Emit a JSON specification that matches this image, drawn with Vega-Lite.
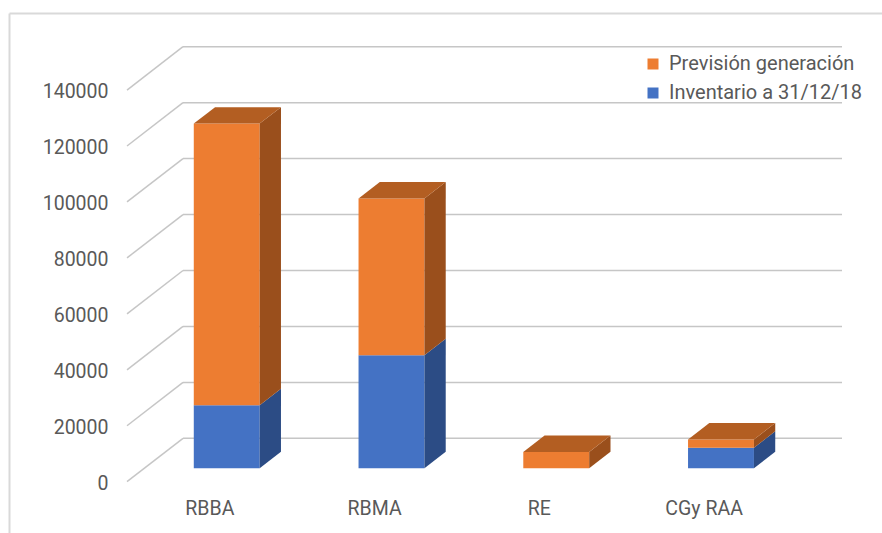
{
  "$schema": "https://vega.github.io/schema/vega-lite/v6.json",
  "width": 873,
  "height": 520,
  "autosize": {"type": "none"},
  "padding": {"left": 9, "top": 13, "right": 0, "bottom": 0},
  "config": {
    "view": {"stroke": null},
    "font": "Roboto",
    "axis": {"labelFont": "Roboto", "labelFontSize": 19.5, "labelColor": "#595959"},
    "legend": {"labelFont": "Roboto", "labelFontSize": 20, "labelColor": "#595959"}
  },
  "datasets": {
    "energia": [
      {"categoria": "RBBA", "serie": "Inventario a 31/12/18", "valor": 22500},
      {"categoria": "RBBA", "serie": "Previsión generación", "valor": 100700},
      {"categoria": "RBMA", "serie": "Inventario a 31/12/18", "valor": 40400},
      {"categoria": "RBMA", "serie": "Previsión generación", "valor": 56000},
      {"categoria": "RE", "serie": "Inventario a 31/12/18", "valor": 0},
      {"categoria": "RE", "serie": "Previsión generación", "valor": 5800},
      {"categoria": "CGy RAA", "serie": "Inventario a 31/12/18", "valor": 7300},
      {"categoria": "CGy RAA", "serie": "Previsión generación", "valor": 3000}
    ],
    "rejilla": [
      {"valor": 0}, {"valor": 20000}, {"valor": 40000}, {"valor": 60000},
      {"valor": 80000}, {"valor": 100000}, {"valor": 120000}, {"valor": 140000}
    ]
  },
  "layer": [
    {
      "data": {"name": "rejilla"},
      "transform": [{"calculate": "datum.valor + 15500", "as": "fondo"}],
      "layer": [
        {
          "mark": {"type": "rule", "stroke": "#C6C6C6", "strokeWidth": 1.5},
          "encoding": {
            "x": {"datum": 0, "type": "quantitative"},
            "x2": {"datum": 0.34},
            "y": {"field": "valor", "type": "quantitative", "stack": null},
            "y2": {"field": "fondo"}
          }
        },
        {
          "mark": {"type": "rule", "stroke": "#C6C6C6", "strokeWidth": 1.5},
          "encoding": {
            "x": {"datum": 0.34, "type": "quantitative"},
            "x2": {"datum": 4.34},
            "y": {"field": "fondo", "type": "quantitative", "stack": null}
          }
        }
      ]
    },
    {
      "data": {"name": "energia"},
      "transform": [
        {"calculate": "indexof(['RBBA', 'RBMA', 'RE', 'CGy RAA'], datum.categoria)", "as": "i"},
        {"stack": "valor", "groupby": ["categoria"], "sort": [{"field": "serie", "order": "ascending"}], "as": ["v0", "v1"]},
        {"calculate": "0.31", "as": "frente"},
        {"calculate": "0.69", "as": "atras"},
        {"fold": ["frente", "atras"], "as": ["cara", "d"]},
        {"calculate": "datum.i + 0.3 + datum.d * 0.34", "as": "xl"},
        {"calculate": "datum.i + 0.7 + datum.d * 0.34", "as": "xr"},
        {"calculate": "datum.v0 + datum.d * 15500", "as": "yb"},
        {"calculate": "datum.v1 + datum.d * 15500", "as": "yt"}
      ],
      "layer": [
        {
          "transform": [{"filter": "datum.cara === 'frente'"}],
          "mark": {"type": "rect"},
          "encoding": {
            "x": {
              "field": "xl", "type": "quantitative",
              "scale": {"domain": [-0.7162, 4.5827], "nice": false, "zero": false},
              "axis": {
                "orient": "top", "title": null,
                "values": [0.5, 1.5, 2.5, 3.5],
                "labelExpr": "['RBBA', 'RBMA', 'RE', 'CGy RAA'][floor(datum.value)]",
                "labelPadding": -495, "labelBaseline": "middle", "labelAlign": "center",
                "labelFlush": false, "labelOverlap": false,
                "ticks": false, "tickSize": 0, "grid": false,
                "domainColor": "#D9D9D9", "domainWidth": 2
              }
            },
            "x2": {"field": "xr"},
            "y": {
              "field": "yt", "type": "quantitative", "stack": null,
              "scale": {"domain": [-18340, 167550], "nice": false, "zero": false},
              "axis": {
                "orient": "left", "title": null,
                "values": [0, 20000, 40000, 60000, 80000, 100000, 120000, 140000],
                "format": "d",
                "labelPadding": -99, "labelAlign": "right", "labelBaseline": "middle", "labelOffset": 1.5,
                "labelFlush": false, "labelOverlap": false,
                "ticks": false, "tickSize": 0, "grid": false,
                "domainColor": "#D9D9D9", "domainWidth": 2
              }
            },
            "y2": {"field": "yb"},
            "color": {
              "field": "serie", "type": "nominal",
              "scale": {"domain": ["Previsión generación", "Inventario a 31/12/18"], "range": ["#ED7D31", "#4472C4"]},
              "legend": {
                "title": null, "orient": "none", "legendX": 634, "legendY": 41,
                "direction": "vertical", "padding": 0, "labelLimit": 0,
                "symbolType": "square", "symbolSize": 121, "symbolStrokeWidth": 0, "symbolOpacity": 1,
                "labelOffset": 6, "rowPadding": 9
              }
            }
          }
        },
        {
          "transform": [{"filter": "datum.serie === 'Inventario a 31/12/18'"}],
          "mark": {"type": "area", "fill": "#2C4C85", "orient": "vertical"},
          "encoding": {
            "x": {"field": "xr", "type": "quantitative"},
            "y": {"field": "yt", "type": "quantitative", "stack": null},
            "y2": {"field": "yb"},
            "detail": {"field": "categoria"}
          }
        },
        {
          "transform": [{"filter": "datum.serie === 'Previsión generación'"}],
          "mark": {"type": "area", "fill": "#9A4F1C", "orient": "vertical"},
          "encoding": {
            "x": {"field": "xr", "type": "quantitative"},
            "y": {"field": "yt", "type": "quantitative", "stack": null},
            "y2": {"field": "yb"},
            "detail": {"field": "categoria"}
          }
        },
        {
          "transform": [{"filter": "datum.serie === 'Previsión generación'"}],
          "mark": {"type": "area", "fill": "#B35E22", "orient": "horizontal"},
          "encoding": {
            "y": {"field": "yt", "type": "quantitative"},
            "x": {"field": "xl", "type": "quantitative", "stack": null},
            "x2": {"field": "xr"},
            "detail": {"field": "categoria"}
          }
        }
      ]
    }
  ]
}
